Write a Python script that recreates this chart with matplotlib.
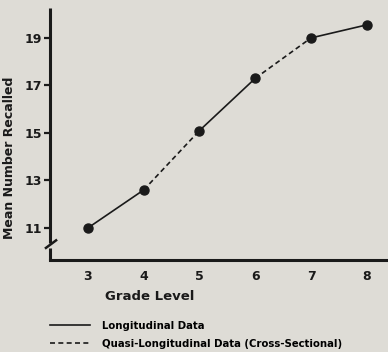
import matplotlib
matplotlib.use("Agg")
import matplotlib.pyplot as plt
from matplotlib.lines import Line2D

# values
grades = [3, 4, 5, 6, 7, 8]
recalled = [11.0, 12.6, 15.1, 17.3, 19.0, 19.55]
seg_styles = ["-", "--", "-", "--", "-"]  # longitudinal / quasi-longitudinal
yticks = [11, 13, 15, 17, 19]
legend_labels = ["Longitudinal Data", "Quasi-Longitudinal Data (Cross-Sectional)"]

bg = "#dedcd6"
ink = "#1a1a1a"
plt.rcParams["font.family"] = ["DejaVu Sans"]
plt.rcParams["font.weight"] = "bold"

fig = plt.figure(figsize=(3.88, 3.52), dpi=100, facecolor=bg)
ax = fig.add_axes([50 / 388, 92 / 352, 1 - 50 / 388, 252 / 352])
ax.set_facecolor(bg)

for i, ls in enumerate(seg_styles):
    ax.plot(grades[i:i + 2], recalled[i:i + 2], ls=ls, color=ink, lw=1.2,
            dashes=(3, 2) if ls == "--" else (None, None))
ax.plot(grades, recalled, "o", color=ink, ms=6.5)

ax.set_xlim(2.32, 8.38)
ax.set_ylim(9.65, 20.26)
ax.set_xticks(grades)
ax.set_yticks(yticks)
ax.tick_params(axis="x", length=0, pad=7, labelsize=9, colors=ink)
ax.tick_params(axis="y", length=4, width=1.6, pad=2, labelsize=9, colors=ink)

for s in ["top", "right", "left"]:
    ax.spines[s].set_visible(False)
ax.spines["bottom"].set_linewidth(2.2)
ax.spines["bottom"].set_color(ink)

# left axis drawn by hand, with the break mark near the bottom
ax.plot([0, 0], [1, 0.068], transform=ax.transAxes, color=ink, lw=2.2,
        clip_on=False, solid_capstyle="butt")
ax.plot([0, 0], [0.048, 0], transform=ax.transAxes, color=ink, lw=2.2,
        clip_on=False, solid_capstyle="butt")
ax.plot([-0.012, 0.018], [0.048, 0.078], transform=ax.transAxes, color=ink,
        lw=1.8, clip_on=False)

fig.text(10 / 388, 1 - 158 / 352, "Mean Number Recalled", rotation=90,
         ha="center", va="center", fontsize=9, color=ink)
fig.text(105 / 388, 1 - 296 / 352, "Grade Level", ha="left", va="center",
         fontsize=9.5, color=ink)

handles = [Line2D([], [], color=ink, lw=1.2),
           Line2D([], [], color=ink, lw=1.2, ls="--", dashes=(3, 2))]
fig.legend(handles, legend_labels, loc="upper left",
           bbox_to_anchor=(50 / 388, 1 - 321 / 352), frameon=False,
           fontsize=7.3, handlelength=3.9, handletextpad=1.2,
           labelspacing=0.75, borderpad=0, borderaxespad=0)

fig.savefig("out.png", dpi=100, facecolor=bg)
